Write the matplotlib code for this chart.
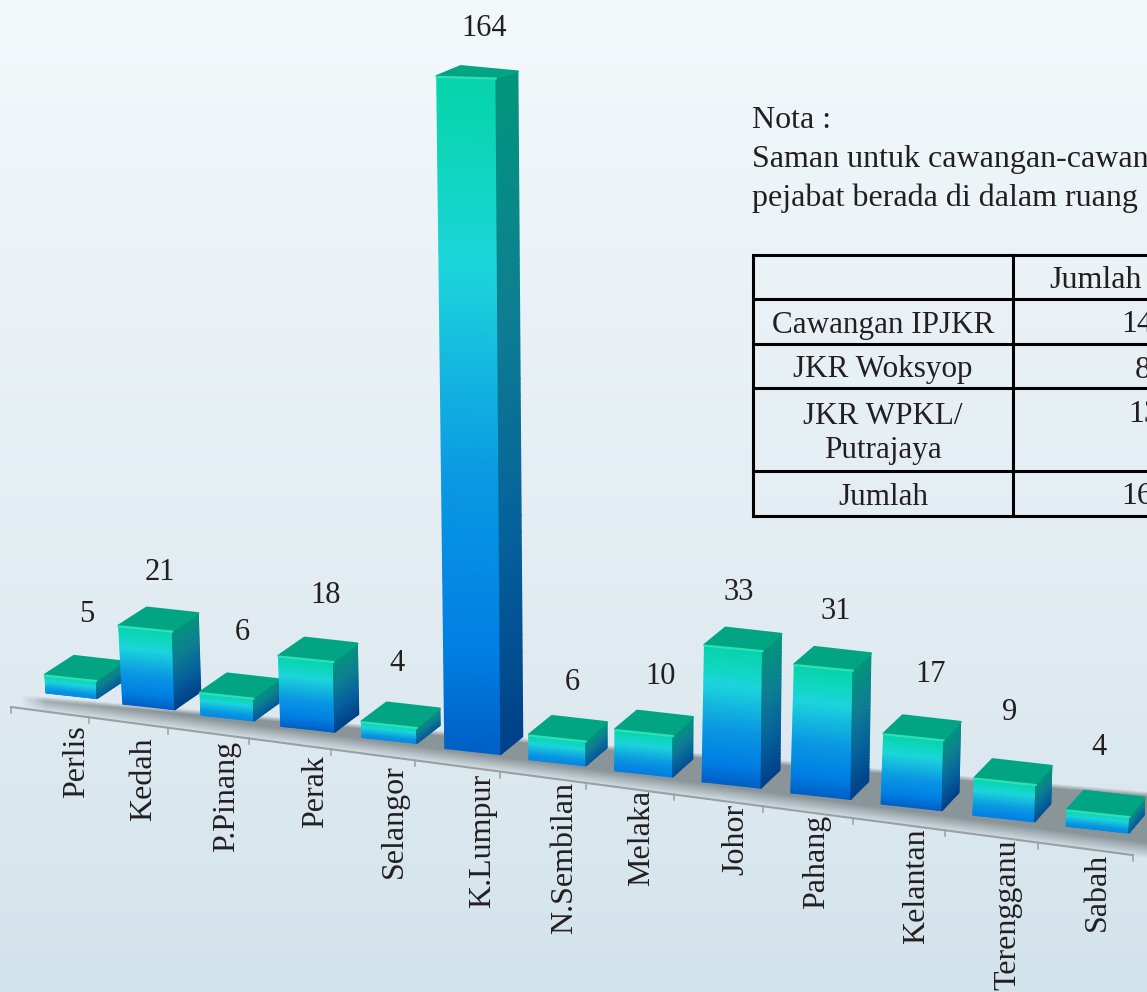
import numpy as np
import matplotlib
matplotlib.use("Agg")
import matplotlib.pyplot as plt
from matplotlib.colors import LinearSegmentedColormap
from matplotlib.patches import Polygon

# data
negeri = ["Perlis", "Kedah", "P.Pinang", "Perak", "Selangor", "K.Lumpur", "N.Sembilan",
          "Melaka", "Johor", "Pahang", "Kelantan", "Terengganu", "Sabah"]
saman = [5, 21, 6, 18, 4, 164, 6, 10, 33, 31, 17, 9, 4]

nota = ["Nota :", "Saman untuk cawangan-cawan", "pejabat berada di dalam ruang"]
table_left = ["Cawangan IPJKR", "JKR Woksyop", "JKR WPKL/\nPutrajaya", "Jumlah"]
table_right = ["14", "8", "13", "16"]

# hand placed labels in the original, nudges from the computed spot
value_dx = [15, 11, 15, 18, 8, 11, 15, 17, 7, 15, 19, 6, 1]
value_dy = [-41, -35, -41, -42, -39, -38, -34, -34, -35, -35, -41, -47, -43]
name_dx = [5, -5, -1, 8, 5, 10, 7, -2, 4, -4, 5, 4, 0]
name_dy = [10, 13, 5, 8, 7, 5, 2, 0, 1, 1, 2, 1, 2]

W, H = 1147, 992
plt.rcParams['font.family'] = ['Liberation Serif', 'DejaVu Serif']
ink = '#231f20'
fs = 23

fig = plt.figure(figsize=(W / 100, H / 100), dpi=100)
ax = fig.add_axes([0, 0, 1, 1])
ax.set_xlim(0, W)
ax.set_ylim(H, 0)
ax.axis('off')

# background
bg = LinearSegmentedColormap.from_list('bg', ['#f3f9fb', '#e9f1f6', '#e0ebf1', '#d3e3eb'])
ax.imshow(np.linspace(0, 1, 256).reshape(-1, 1), cmap=bg, extent=[0, W, H, 0], aspect='auto', zorder=0)
ax.set_xlim(0, W)
ax.set_ylim(H, 0)


# perspective scales of the floor (pixels)
def tick_x(t):
    return 11 + 77.3 * t + 0.692 * t * t


def axis_y(x):
    return 707 + 0.132 * (x - 11)


def bar_x(i):
    return 46 + 76 * i + 0.75 * i * i


def bar_height(i, v):
    return min(4.15, 3.65 + 0.09 * i) * v


# floor shadow
xx, yy = np.meshgrid(np.arange(W), np.arange(H))
top_edge = 697 + 0.086 * (xx - 25)
low_edge = axis_y(xx) - 7
a = np.clip((yy - top_edge) / 5 + 0.5, 0, 1) * np.clip((low_edge - yy) / 16 + 0.5, 0, 1)
a = a * np.clip((xx - 20) / 25, 0, 1)
shadow = np.zeros((H, W, 4))
shadow[..., :3] = matplotlib.colors.to_rgb('#8a9599')
shadow[..., 3] = a
ax.imshow(shadow, extent=[0, W, H, 0], aspect='auto', zorder=1)
ax.set_xlim(0, W)
ax.set_ylim(H, 0)

# axis line and ticks
ticks = tick_x(np.arange(len(negeri) + 1))
ax.plot([ticks[0], ticks[-1]], [axis_y(ticks[0]), axis_y(ticks[-1])], color='#9a9fa2', lw=1.5, zorder=2)
for tx in ticks:
    ax.plot([tx, tx], [axis_y(tx), axis_y(tx) + 6], color='#9a9fa2', lw=1.1, zorder=2)

front_cmap = LinearSegmentedColormap.from_list(
    'front', [(0, '#05d4ac'), (0.1, '#0cd6b8'), (0.28, '#1cd5dc'), (0.6, '#0a98e2'), (0.85, '#007fe4'), (1, '#0060c6')])
side_cmap = LinearSegmentedColormap.from_list(
    'side', [(0, '#01967c'), (0.35, '#0e7f92'), (0.7, '#05609c'), (1, '#00418a')])
top_colour = '#02a583'

z = 3
for i, (name, v) in enumerate(zip(negeri, saman)):
    h = bar_height(i, v)
    lean = (i - 6.2) * 0.01 * h
    w = 51 + i
    # bottom of the front face
    x0 = bar_x(i)
    y0 = 693 + 11.1 * i
    x1 = x0 + w
    y1 = y0 + w * 0.11
    # top of the front face, flatter the higher it gets
    tx0, ty0 = x0 + lean, y0 - h
    tx1, ty1 = x1 + lean * 0.6, ty0 + w * (0.11 - h * 0.00012)
    # depth of the box
    ddx = 27 - i
    ddy_left = -19 + 0.0135 * h
    ddy_right = -19 + 0.019 * h
    ddy_low = -18

    # short bars only show the upper part of the colour ramp
    tmax = min(1, 0.72 + 0.28 * max(h - 20, 0) / 45)
    t = np.linspace(0, 1, 40)
    X = np.column_stack([tx0 + (x0 - tx0) * t, tx1 + (x1 - tx1) * t])
    Y = np.column_stack([ty0 + (y0 - ty0) * t, ty1 + (y1 - ty1) * t])
    C = np.column_stack([t, t]) * tmax
    ax.pcolormesh(X, Y, C, shading='gouraud', cmap=front_cmap, vmin=0, vmax=1, zorder=z)

    bx0, by0 = tx1 + ddx, ty1 + ddy_right
    bx1, by1 = x1 + ddx, y1 + ddy_low
    X = np.column_stack([tx1 + (x1 - tx1) * t, bx0 + (bx1 - bx0) * t])
    Y = np.column_stack([ty1 + (y1 - ty1) * t, by0 + (by1 - by0) * t])
    ax.pcolormesh(X, Y, C, shading='gouraud', cmap=side_cmap, vmin=0, vmax=1, zorder=z)

    ax.add_patch(Polygon([(tx0, ty0), (tx1, ty1), (bx0, by0), (tx0 + ddx + 2, ty0 + ddy_left)],
                         closed=True, fc=top_colour, ec=top_colour, lw=1.6, joinstyle='round', zorder=z + 0.1))
    # light edge along the front of the lid
    ax.plot([tx0, tx1], [ty0 + 0.8, ty1 + 0.8], color='#2fe0b6', lw=1.6, zorder=z + 0.2, solid_capstyle='round')
    z += 1

    ax.text((x0 + x1) / 2 + value_dx[i], ty0 + ddy_left + value_dy[i], str(v), ha='center', va='center',
            fontsize=22, color=ink, zorder=50)
    nx = (x0 + x1) / 2 + name_dx[i]
    ax.text(nx, axis_y(nx) + name_dy[i], name, rotation=90, ha='center', va='top', fontsize=fs, color=ink, zorder=50)

# note
for line, y in zip(nota, [121, 159, 198]):
    ax.text(752, y, line, ha='left', va='center', fontsize=fs, color=ink, zorder=50)

# table
row_y = [255, 299, 344, 388, 471, 516]
col_x = [753, 1013]
for y in row_y:
    ax.plot([col_x[0] - 1.5, W], [y, y], color='black', lw=2.2, zorder=50, solid_capstyle='butt')
for x in col_x:
    ax.plot([x, x], [row_y[0], row_y[-1]], color='black', lw=2.2, zorder=50, solid_capstyle='projecting')

ax.text(1049, (row_y[0] + row_y[1]) / 2 + 4, "Jumlah", ha='left', va='center', fontsize=fs, color=ink, zorder=51)
right_x = [1121, 1135, 1128, 1121]
for r in range(4):
    cy = (row_y[r + 1] + row_y[r + 2]) / 2 + 4
    ax.text((col_x[0] + col_x[1]) / 2, cy, table_left[r], ha='center', va='center', fontsize=22.4,
            color=ink, linespacing=1.25, zorder=51)
    ax.text(right_x[r], row_y[r + 1] + 26, table_right[r], ha='left', va='center', fontsize=fs, color=ink, zorder=51)

fig.savefig('out.png', dpi=100)
